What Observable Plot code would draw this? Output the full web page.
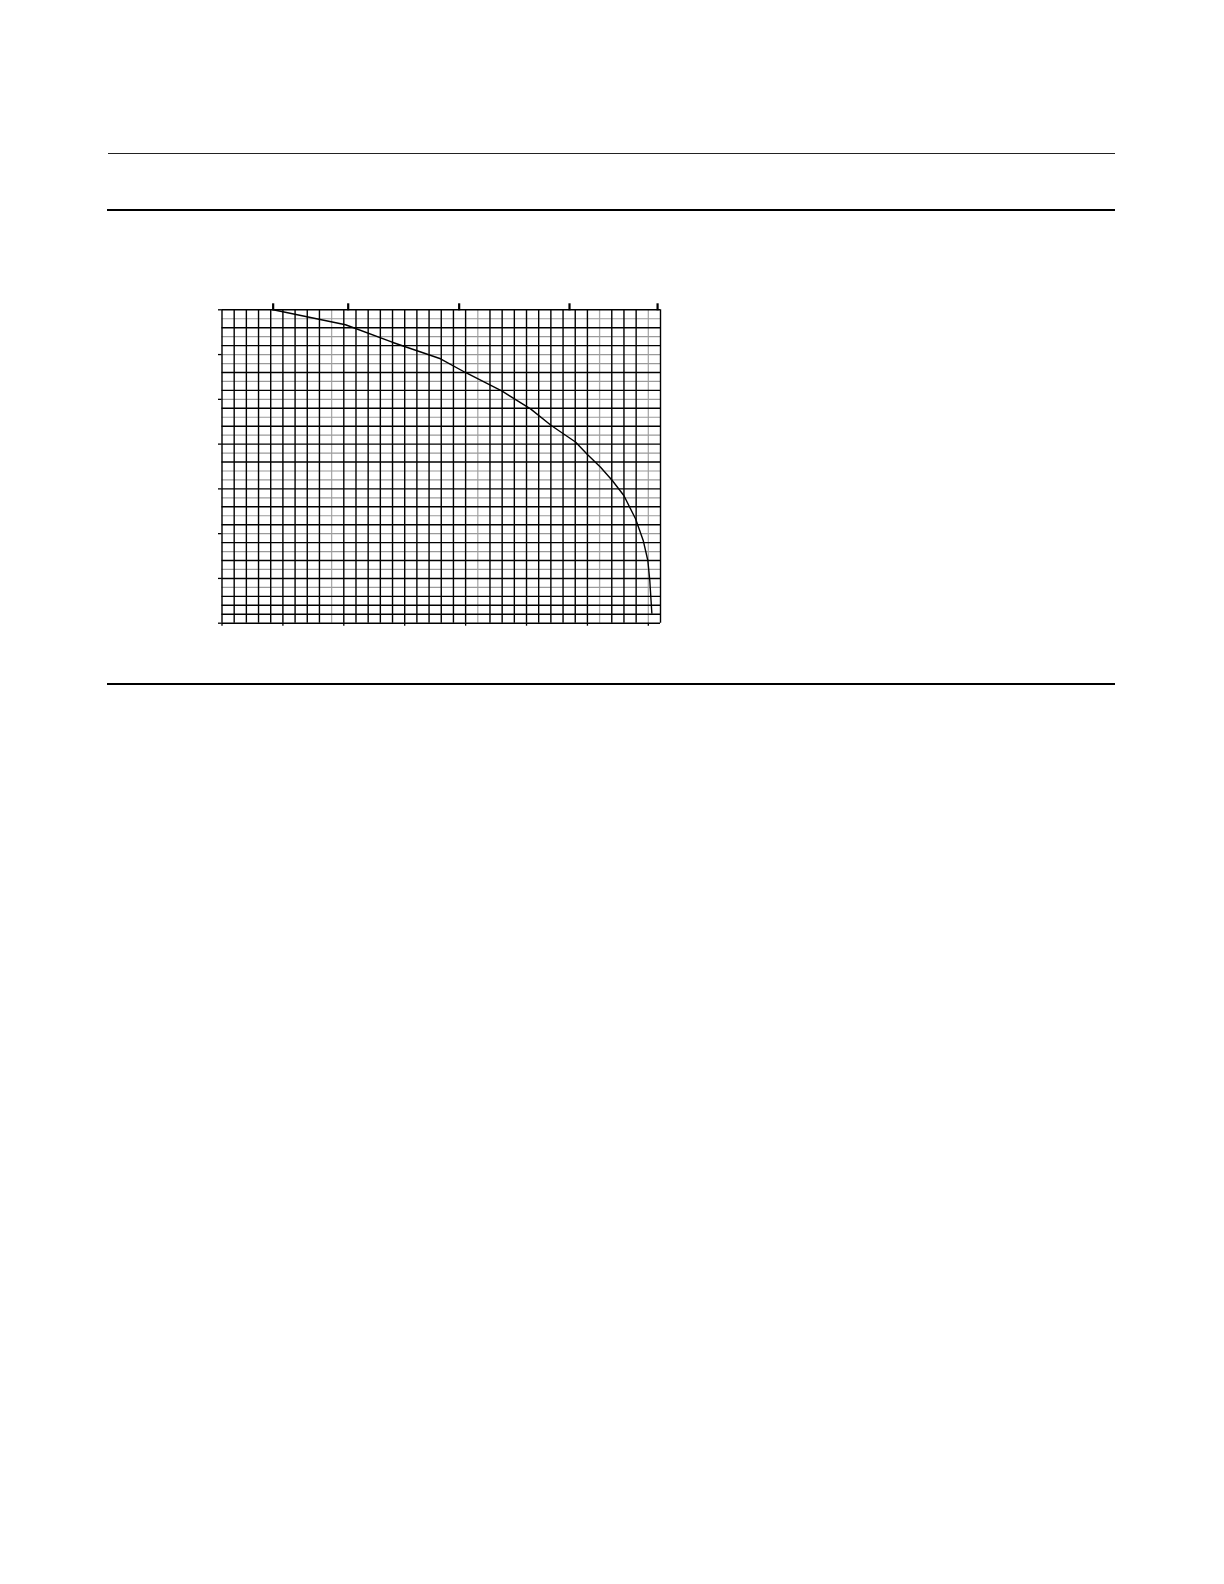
<!DOCTYPE html>
<html>
<head>
<meta charset="utf-8">
<script src="https://cdn.jsdelivr.net/npm/d3@7"></script>
<script src="https://cdn.jsdelivr.net/npm/@observablehq/plot@0.6"></script>
<style>
  html, body { margin: 0; padding: 0; background: #fff; }
  body { width: 1224px; height: 1584px; position: relative; font-family: "Liberation Sans", Arial, sans-serif; }
  .rule { position: absolute; left: 107px; width: 1008px; background: #000; }
  #chart { position: absolute; left: 200px; top: 290px; }
</style>
</head>
<body>
<div class="rule" style="top:152.6px;height:1.3px;background:#222;left:108px;width:1007px;"></div>
<div class="rule" style="top:209px;height:2px;"></div>
<div class="rule" style="top:683px;height:2px;"></div>
<div id="chart"></div>
<script>
// Grid (chart units): x runs 0..36, y runs 0..35
const xGridBlack = [0,1,2,3,4,5,6,7,8,10,11,12,13,14,15,16,17,18,19,20,22,23,24,25,26,27,28,29,30,32,33,34,36];
const xGridGray = [9,21,31,35];
const yGridBlack = [0,1,2,3,5,7,9,11,13,15,18,20,22,24,26,28,31,33,35];
const yGridGray = [4,6,8,10,12,14,16,17,19,21,23,25,27,29,30,32,34];
const xTicksBottom = [0,5,10,15,20,25,30,35];
const yTicksLeft = [0,5,10,15,20,25,30,35];
const xTicksTop = [4.2,10.36,19.47,28.53,35.76];

// Curve
const curveX = [4.2,10.14,13.97,17.94,20.02,23.0,25.33,27.03,29.02,29.98,31.08,32.04,32.99,33.95,34.58,34.96,35.12,35.29];
const curveY = [35.0,33.33,31.38,29.53,27.97,25.91,23.94,22.08,20.24,18.86,17.42,15.94,14.26,11.66,9.24,7.0,4.77,1.12];
const curve = curveX.map((x, i) => ({x, y: curveY[i]}));

const W = 480, H = 350;
const mL = 21.5, mT = 19.3;
const plotW = 438.5, plotH = 313.4;

const chart = Plot.plot({
  width: W,
  height: H,
  marginLeft: mL,
  marginRight: W - mL - plotW,
  marginTop: mT,
  marginBottom: H - mT - plotH,
  x: {domain: [0, 36], label: null},
  y: {domain: [0, 35], label: null},
  style: {background: "transparent"},
  marks: [
    Plot.ruleX(xGridGray, {stroke: "#aaaaaa", strokeWidth: 1.3}),
    Plot.ruleY(yGridGray, {stroke: "#9a9a9a", strokeWidth: 1.2}),
    Plot.ruleY(yGridBlack, {stroke: "#000", strokeWidth: 1.4}),
    Plot.ruleX(xGridBlack, {stroke: "#000", strokeWidth: 1.4}),
    Plot.axisX({anchor: "bottom", ticks: xTicksBottom, tickSize: 3, tickFormat: () => "", label: null, stroke: "#000", strokeWidth: 1.3}),
    Plot.axisY({anchor: "left", ticks: yTicksLeft, tickSize: 3.5, tickFormat: () => "", label: null, stroke: "#000", strokeWidth: 1.3}),
    Plot.axisX({anchor: "top", ticks: xTicksTop, tickSize: 7, tickFormat: () => "", label: null, stroke: "#000", strokeWidth: 2.2}),
    Plot.line(curve, {x: "x", y: "y", stroke: "#000", strokeWidth: 1.4, curve: "linear"})
  ]
});
document.getElementById("chart").appendChild(chart);
</script>
</body>
</html>
